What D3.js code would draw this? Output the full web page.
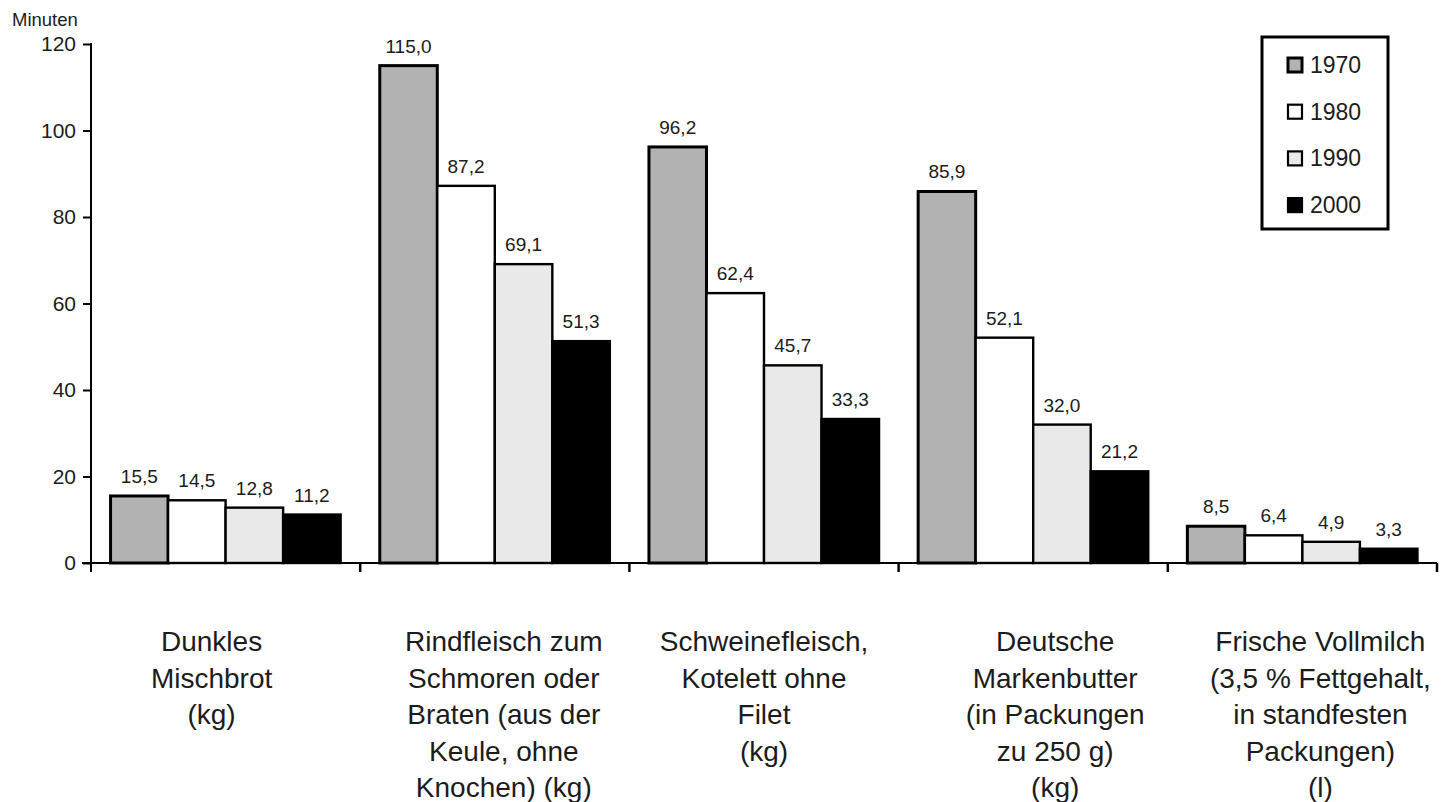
<!DOCTYPE html>
<html>
<head>
<meta charset="utf-8">
<script src="https://cdn.jsdelivr.net/npm/d3@7/dist/d3.min.js"></script>
<style>
  html, body { margin: 0; padding: 0; background: #fff; }
  svg { display: block; font-family: "Liberation Sans", Arial, sans-serif; }
</style>
</head>
<body>
<svg id="chart" width="1447" height="802"></svg>
<script>
// Arbeitszeit in Minuten für den Kauf ausgewählter Lebensmittel
const categories = [
  ["Dunkles", "Mischbrot", "(kg)"],
  ["Rindfleisch zum", "Schmoren oder", "Braten (aus der", "Keule, ohne", "Knochen) (kg)"],
  ["Schweinefleisch,", "Kotelett ohne", "Filet", "(kg)"],
  ["Deutsche", "Markenbutter", "(in Packungen", "zu 250 g)", "(kg)"],
  ["Frische Vollmilch", "(3,5 % Fettgehalt,", "in standfesten", "Packungen)", "(l)"]
];
const years = ["1970", "1980", "1990", "2000"];
const values1970 = [15.5, 115.0, 96.2, 85.9, 8.5];
const values1980 = [14.5, 87.2, 62.4, 52.1, 6.4];
const values1990 = [12.8, 69.1, 45.7, 32.0, 4.9];
const values2000 = [11.2, 51.3, 33.3, 21.2, 3.3];
const yTicks = [0, 20, 40, 60, 80, 100, 120];
const yLabel = "Minuten";

const series = [values1970, values1980, values1990, values2000];
const fills = { "1970": "#b2b2b2", "1980": "#ffffff", "1990": "#e9e9e9", "2000": "#000000" };
const textColor = "#1c1c1c";
// horizontal shift of each wrapped category label relative to its band centre
const labelShift = [-14, 9, 0, 22, 18];

const svg = d3.select("#chart");

const plotLeft = 91, plotRight = 1437, plotTop = 44, plotBottom = 563;

const y = d3.scaleLinear().domain([0, 120]).range([plotBottom, plotTop]);
const x0 = d3.scaleBand().domain(d3.range(categories.length)).range([plotLeft, plotRight]).padding(0);
const x1 = d3.scaleBand().domain(years).range([0, x0.bandwidth()]).paddingInner(0).paddingOuter(0.34);

const fmt = v => d3.format(".1f")(v).replace(".", ",");

// Bars
const groups = svg.append("g").selectAll("g")
  .data(categories.map((c, i) => i))
  .join("g")
  .attr("transform", i => `translate(${x0(i)},0)`);

groups.selectAll("rect")
  .data(i => years.map((yr, k) => ({ yr, v: series[k][i] })))
  .join("rect")
  .attr("x", d => x1(d.yr))
  .attr("y", d => y(d.v))
  .attr("width", x1.bandwidth())
  .attr("height", d => y(0) - y(d.v))
  .attr("fill", d => fills[d.yr])
  .attr("stroke", "#000")
  .attr("stroke-width", d => d.yr === "1970" ? 3 : 2.4);

groups.selectAll("text.val")
  .data(i => years.map((yr, k) => ({ yr, v: series[k][i] })))
  .join("text")
  .attr("class", "val")
  .attr("x", d => x1(d.yr) + x1.bandwidth() / 2)
  .attr("y", d => y(d.v) - 13)
  .attr("text-anchor", "middle")
  .attr("font-size", 19)
  .attr("fill", textColor)
  .text(d => fmt(d.v));

// Y axis
const yAxis = svg.append("g")
  .attr("transform", `translate(${plotLeft},0)`)
  .call(d3.axisLeft(y).tickValues(yTicks).tickSize(8).tickPadding(7).tickFormat(d => d));
yAxis.select(".domain").remove();
yAxis.selectAll(".tick line").attr("stroke", "#000").attr("stroke-width", 2);
yAxis.selectAll(".tick text")
  .attr("font-size", 21)
  .attr("fill", textColor)
  .attr("font-family", "Liberation Sans, Arial, sans-serif");

svg.append("line")
  .attr("x1", plotLeft).attr("x2", plotLeft)
  .attr("y1", y(120) - 1).attr("y2", y(0) + 9)
  .attr("stroke", "#000").attr("stroke-width", 2);

svg.append("text")
  .attr("x", 12).attr("y", 26)
  .attr("font-size", 18.5)
  .attr("fill", textColor)
  .text(yLabel);

// X axis with category boundary ticks
svg.append("line")
  .attr("x1", plotLeft - 9).attr("x2", plotRight)
  .attr("y1", y(0)).attr("y2", y(0))
  .attr("stroke", "#000").attr("stroke-width", 2);

const boundaries = d3.range(categories.length + 1).map(i => i < categories.length ? x0(i) : x0(i - 1) + x0.bandwidth());
svg.append("g").selectAll("line")
  .data(boundaries.slice(1))
  .join("line")
  .attr("x1", d => d).attr("x2", d => d)
  .attr("y1", y(0)).attr("y2", y(0) + 9)
  .attr("stroke", "#000").attr("stroke-width", 2.5);

// Category labels
const catX = i => x0(i) + x0.bandwidth() / 2 + labelShift[i];
const catLabels = svg.append("g").selectAll("text")
  .data(categories)
  .join("text")
  .attr("x", (c, i) => catX(i))
  .attr("y", 651)
  .attr("text-anchor", "middle")
  .attr("font-size", 28)
  .attr("fill", textColor);
catLabels.selectAll("tspan")
  .data((c, i) => c.map(line => ({ line, i })))
  .join("tspan")
  .attr("x", d => catX(d.i))
  .attr("dy", (d, k) => k === 0 ? 0 : 36.5)
  .text(d => d.line);

// Legend
const legend = svg.append("g").attr("transform", "translate(1262,37)");
legend.append("rect")
  .attr("x", 0).attr("y", 0)
  .attr("width", 126).attr("height", 192)
  .attr("fill", "#fff").attr("stroke", "#000").attr("stroke-width", 3);
const items = legend.selectAll("g.item")
  .data(years)
  .join("g")
  .attr("class", "item")
  .attr("transform", (d, k) => `translate(0,${28 + k * 46.7})`);
items.append("rect")
  .attr("x", 26).attr("y", -7)
  .attr("width", 14).attr("height", 14)
  .attr("fill", d => fills[d])
  .attr("stroke", "#000")
  .attr("stroke-width", d => d === "1970" ? 3 : 2.2);
items.append("text")
  .attr("x", 48).attr("y", 8)
  .attr("font-size", 23)
  .attr("fill", textColor)
  .text(d => d);
</script>
</body>
</html>
